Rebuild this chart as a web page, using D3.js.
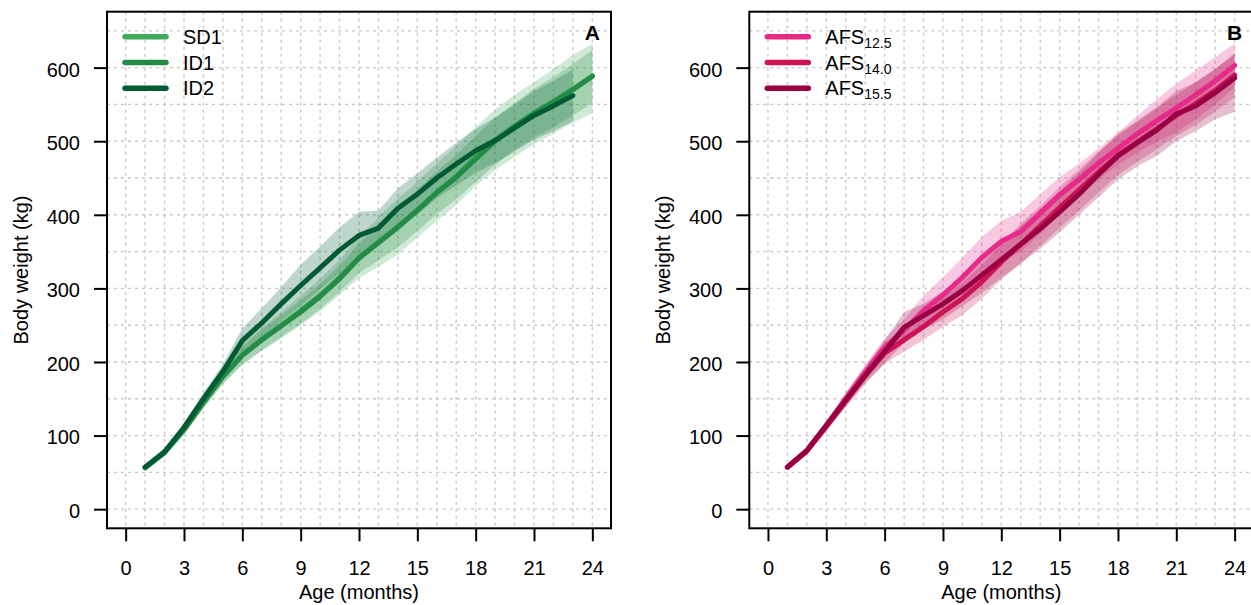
<!DOCTYPE html>
<html>
<head>
<meta charset="utf-8">
<script src="https://cdnjs.cloudflare.com/ajax/libs/d3/7.8.5/d3.min.js"></script>
<style>
  body { margin: 0; background: #fff; }
  svg { display: block; font-family: "Liberation Sans", Arial, sans-serif; }
</style>
</head>
<body>
<div id="chart"></div>
<script>
"use strict";

// months 1..24
var months = d3.range(1, 25);
var xTicks = [0, 3, 6, 9, 12, 15, 18, 21, 24];
var yTicks = [0, 100, 200, 300, 400, 500, 600];

// Panel A
var sd1    = [56, 77, 108, 146, 181, 210, 231, 250, 270, 291, 315, 342, 363, 384, 407, 431, 453, 479, 502, 521, 538, 554, 571, 589];
var sd1Hi  = [59, 82, 115, 155, 192, 224, 247, 268, 290, 313, 339, 370, 397, 422, 445, 470, 493, 519, 543, 563, 580, 598, 617, 632];
var sd1Lo  = [53, 72, 101, 137, 170, 196, 215, 232, 250, 269, 291, 314, 329, 346, 369, 392, 413, 439, 461, 479, 496, 510, 525, 538];
var id1    = [57, 77, 108, 145, 180, 209, 230, 249, 268, 289, 313, 341, 362, 383, 406, 430, 451, 476, 500, 520, 538, 553, 570, 588];
var id1Hi  = [59, 81, 114, 153, 190, 221, 244, 264, 284, 306, 331, 361, 386, 410, 434, 459, 481, 507, 532, 552, 571, 587, 605, 624];
var id1Lo  = [55, 73, 102, 137, 170, 197, 216, 234, 252, 272, 295, 321, 338, 356, 378, 401, 421, 445, 468, 488, 505, 519, 535, 552];
var id2    = [57, 78, 111, 150, 187, 229, 253, 279, 304, 328, 352, 372, 382, 409, 428, 450, 469, 487, 501, 518, 535, 548, 562];
var id2Hi  = [60, 82, 117, 158, 197, 246, 273, 302, 332, 357, 383, 404, 406, 436, 456, 478, 498, 517, 532, 550, 568, 582, 597];
var id2Lo  = [54, 74, 105, 142, 177, 212, 233, 256, 276, 299, 321, 340, 358, 382, 400, 422, 440, 457, 470, 486, 502, 514, 527];

// Panel B
var afs125   = [57, 79, 113, 150, 186, 220, 243, 270, 291, 315, 342, 364, 377, 402, 427, 448, 470, 490, 510, 528, 545, 563, 582, 603];
var afs125Hi = [60, 83, 119, 158, 196, 232, 258, 290, 315, 342, 370, 392, 404, 428, 451, 470, 490, 512, 535, 557, 578, 596, 614, 633];
var afs125Lo = [54, 75, 107, 142, 176, 208, 228, 250, 267, 288, 314, 336, 350, 374, 400, 424, 448, 468, 485, 499, 512, 530, 550, 573];
var afs140   = [57, 79, 112, 147, 181, 212, 230, 248, 268, 286, 309, 336, 360, 385, 410, 434, 458, 481, 499, 517, 535, 551, 569, 590];
var afs140Hi = [59, 82, 117, 154, 190, 226, 246, 266, 288, 308, 332, 360, 388, 412, 438, 462, 486, 508, 526, 545, 563, 580, 598, 620];
var afs140Lo = [55, 76, 107, 140, 172, 198, 214, 230, 248, 264, 286, 312, 334, 358, 382, 406, 430, 454, 472, 489, 507, 522, 540, 560];
var afs155   = [57, 80, 114, 148, 182, 214, 247, 263, 279, 297, 318, 339, 360, 381, 404, 428, 455, 480, 498, 515, 537, 548, 566, 586];
var afs155Hi = [60, 84, 120, 158, 194, 230, 268, 279, 296, 316, 340, 362, 385, 408, 432, 457, 484, 510, 528, 546, 568, 580, 598, 618];
var afs155Lo = [54, 76, 108, 138, 170, 198, 226, 244, 258, 276, 294, 314, 334, 354, 376, 400, 424, 448, 466, 480, 500, 514, 530, 540];

var panels = [
  {
    letter: "A", left: 107,
    series: [
      {name: "SD1", sub: null, color: "#41ab5d", mean: sd1, hi: sd1Hi, lo: sd1Lo},
      {name: "ID1", sub: null, color: "#238b45", mean: id1, hi: id1Hi, lo: id1Lo},
      {name: "ID2", sub: null, color: "#005a32", mean: id2, hi: id2Hi, lo: id2Lo}
    ]
  },
  {
    letter: "B", left: 749.3,
    series: [
      {name: "AFS", sub: "12.5", color: "#e7298a", mean: afs125, hi: afs125Hi, lo: afs125Lo},
      {name: "AFS", sub: "14.0", color: "#ce1256", mean: afs140, hi: afs140Hi, lo: afs140Lo},
      {name: "AFS", sub: "15.5", color: "#980043", mean: afs155, hi: afs155Hi, lo: afs155Lo}
    ]
  }
];

var W = 1251, H = 605;
var plotTop = 11.7, pw = 504, ph = 516.6;

var svg = d3.select("#chart").append("svg")
    .attr("width", W)
    .attr("height", H);

var x = d3.scaleLinear().domain([-0.96, 24.96]).range([0, pw]);
var y = d3.scaleLinear().domain([-26, 676]).range([ph, 0]);

panels.forEach(function(p) {
  var g = svg.append("g")
      .attr("transform", "translate(" + p.left + "," + plotTop + ")");

  // grid, dotted: every month, every 50 kg
  g.append("g").selectAll("line")
      .data(d3.range(0, 25))
      .enter().append("line")
      .attr("x1", function(d) { return x(d); })
      .attr("x2", function(d) { return x(d); })
      .attr("y1", 0).attr("y2", ph)
      .attr("stroke", "#c8c8c8").attr("stroke-width", 1.4)
      .attr("stroke-dasharray", "3,4");

  g.append("g").selectAll("line")
      .data(d3.range(0, 651, 50))
      .enter().append("line")
      .attr("y1", function(d) { return y(d); })
      .attr("y2", function(d) { return y(d); })
      .attr("x1", 0).attr("x2", pw)
      .attr("stroke", "#c8c8c8").attr("stroke-width", 1.4)
      .attr("stroke-dasharray", "3,4");

  var area = d3.area()
      .x(function(d) { return x(d.m); })
      .y0(function(d) { return y(d.lo); })
      .y1(function(d) { return y(d.hi); });

  var line = d3.line()
      .x(function(d) { return x(d.m); })
      .y(function(d) { return y(d.v); });

  // ribbons first
  p.series.forEach(function(s) {
    var pts = s.mean.map(function(v, i) { return {m: months[i], lo: s.lo[i], hi: s.hi[i]}; });
    g.append("path")
        .datum(pts)
        .attr("d", area)
        .attr("fill", s.color)
        .attr("fill-opacity", 0.25);
  });

  p.series.forEach(function(s) {
    var pts = s.mean.map(function(v, i) { return {m: months[i], v: v}; });
    g.append("path")
        .datum(pts)
        .attr("d", line)
        .attr("fill", "none")
        .attr("stroke", s.color)
        .attr("stroke-width", 5)
        .attr("stroke-linecap", "round")
        .attr("stroke-linejoin", "round");
  });

  // axes
  var xa = g.append("g")
      .attr("transform", "translate(0," + ph + ")")
      .call(d3.axisBottom(x).tickValues(xTicks).tickSize(13).tickPadding(20));
  var ya = g.append("g")
      .call(d3.axisLeft(y).tickValues(yTicks).tickSize(13).tickPadding(14));
  [xa, ya].forEach(function(a) {
    a.select(".domain").remove();
    a.selectAll(".tick line").attr("stroke", "#000").attr("stroke-width", 2);
    a.selectAll(".tick text").attr("fill", "#000").style("font-size", "20px")
        .style("font-family", "'Liberation Sans', Arial, sans-serif");
  });
  ya.selectAll(".tick text").attr("dy", "0.42em");

  // box
  g.append("rect")
      .attr("width", pw).attr("height", ph)
      .attr("fill", "none").attr("stroke", "#000").attr("stroke-width", 2);

  g.append("text")
      .attr("x", pw / 2).attr("y", 587)
      .attr("text-anchor", "middle")
      .style("font-size", "20px")
      .text("Age (months)");

  g.append("text")
      .attr("transform", "translate(-79," + (ph / 2) + ") rotate(-90)")
      .attr("text-anchor", "middle")
      .style("font-size", "20px")
      .text("Body weight (kg)");

  g.append("text")
      .attr("x", x(24)).attr("y", 28.3)
      .attr("text-anchor", "middle")
      .style("font-size", "21px").style("font-weight", "bold")
      .text(p.letter);

  // legend
  var lg = g.selectAll(".leg")
      .data(p.series)
      .enter().append("g")
      .attr("class", "leg")
      .attr("transform", function(d, i) { return "translate(0," + (25 + i * 25.8) + ")"; });

  lg.append("line")
      .attr("x1", 18).attr("x2", 59)
      .attr("stroke", function(d) { return d.color; })
      .attr("stroke-width", 5.5)
      .attr("stroke-linecap", "round");

  var lt = lg.append("text")
      .attr("x", 76).attr("y", 7)
      .style("font-size", "20px");
  lt.append("tspan").text(function(d) { return d.name; });
  lt.filter(function(d) { return d.sub; })
      .append("tspan")
      .attr("dy", 4)
      .style("font-size", "14px")
      .text(function(d) { return d.sub; });
});
</script>
</body>
</html>
